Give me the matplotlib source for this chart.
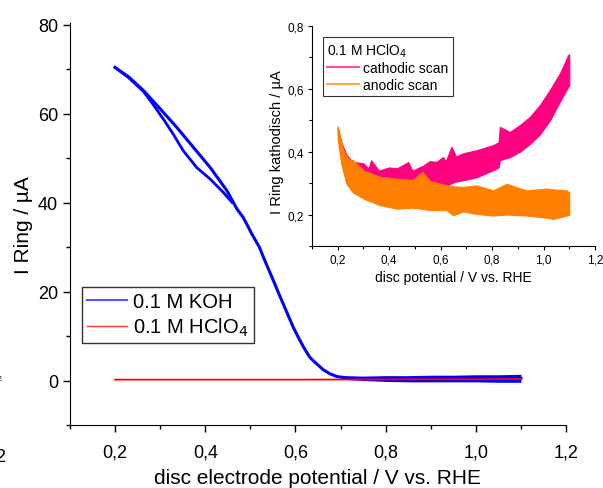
import matplotlib.pyplot as plt
from matplotlib.lines import Line2D
from matplotlib.ticker import MultipleLocator, FuncFormatter

plt.rcParams['font.family'] = ['Liberation Sans', 'DejaVu Sans']

# main plot: 0.1 M KOH, two scan branches (they join below ~0.46 V)
koh_v_a = [0.200, 0.230, 0.263, 0.300, 0.337, 0.374, 0.411, 0.448, 0.462, 0.470, 0.484,
           0.496, 0.503, 0.520, 0.529, 0.540, 0.551, 0.562, 0.573, 0.584, 0.595, 0.607,
           0.618, 0.632, 0.647, 0.662, 0.677, 0.692, 0.714, 0.75, 0.80, 0.90, 1.00, 1.10]
koh_i_a = [70.4, 68.3, 65.2, 61.1, 56.9, 52.4, 47.9, 42.7, 40.1, 38.6, 36.7,
           34.4, 33.0, 30.0, 27.7, 25.1, 22.5, 19.8, 17.2, 14.6, 12.0, 9.6,
           7.5, 5.2, 3.75, 2.4, 1.5, 0.9, 0.6, 0.45, 0.4, 0.4, 0.45, 0.5]
koh_v_b = [0.200, 0.230, 0.263, 0.285, 0.300, 0.307, 0.329, 0.351, 0.381, 0.411, 0.440, 0.459]
koh_i_b = [70.4, 68.1, 65.0, 62.0, 59.8, 58.8, 55.4, 51.7, 47.9, 45.3, 42.3, 40.1]

# noise band of the KOH curve in the plateau
flat_v = [0.70, 0.75, 0.80, 0.85, 0.90, 0.95, 1.00, 1.05, 1.10]
flat_hi = [1.0, 1.0, 1.1, 1.1, 1.2, 1.2, 1.3, 1.3, 1.4]
flat_lo = [0.3, 0.0, -0.2, -0.3, -0.3, -0.3, -0.3, -0.4, -0.4]

hclo4_v = [0.2, 0.4, 0.6, 0.8, 1.0, 1.1]
hclo4_i = [0.2, 0.2, 0.2, 0.25, 0.3, 0.35]

# inset: 0.1 M HClO4, noise envelopes of both scans
cath_v = [0.200, 0.205, 0.214, 0.234, 0.250, 0.266, 0.300, 0.320, 0.330, 0.360, 0.400,
          0.430, 0.474, 0.490, 0.530, 0.558, 0.584, 0.609, 0.620, 0.642, 0.660, 0.687,
          0.740, 0.804, 0.825, 0.830, 0.869, 0.908, 0.947, 0.986, 1.025, 1.064, 1.096, 1.100]
cath_hi = [0.48, 0.46, 0.43, 0.39, 0.375, 0.367, 0.363, 0.347, 0.373, 0.34, 0.35,
           0.347, 0.367, 0.34, 0.355, 0.37, 0.368, 0.383, 0.37, 0.416, 0.385, 0.395,
           0.405, 0.421, 0.43, 0.479, 0.463, 0.485, 0.511, 0.549, 0.597, 0.65, 0.708, 0.71]
cath_lo = [0.46, 0.42, 0.37, 0.30, 0.283, 0.285, 0.29, 0.29, 0.29, 0.29, 0.29,
           0.295, 0.295, 0.30, 0.30, 0.30, 0.29, 0.29, 0.29, 0.30, 0.305, 0.309,
           0.319, 0.341, 0.35, 0.373, 0.383, 0.40, 0.425, 0.455, 0.50, 0.56, 0.607, 0.61]
anod_v = [0.200, 0.214, 0.224, 0.234, 0.247, 0.260, 0.300, 0.364, 0.430, 0.490, 0.530,
          0.558, 0.623, 0.649, 0.687, 0.740, 0.804, 0.856, 0.934, 1.012, 1.038, 1.090, 1.100]
anod_hi = [0.48, 0.427, 0.40, 0.384, 0.375, 0.373, 0.341, 0.32, 0.314, 0.31, 0.335,
           0.307, 0.293, 0.29, 0.288, 0.293, 0.277, 0.298, 0.277, 0.283, 0.28, 0.277, 0.27]
anod_lo = [0.44, 0.36, 0.33, 0.30, 0.283, 0.27, 0.251, 0.23, 0.219, 0.222, 0.218,
           0.214, 0.214, 0.198, 0.21, 0.202, 0.197, 0.20, 0.197, 0.19, 0.186, 0.197, 0.20]

comma = FuncFormatter(lambda v, p: f"{v:.1f}".replace('.', ','))
comma0 = FuncFormatter(lambda v, p: f"{v:.0f}")

fig = plt.figure(figsize=(6.03, 4.89), dpi=100)

ax = fig.add_axes([70/603, 1-426/489, 496/603, 402/489])
ax.plot(koh_v_a, koh_i_a, color='#0000ff', lw=2.2, solid_joinstyle='round')
ax.plot(koh_v_b, koh_i_b, color='#0000ff', lw=2.0, solid_joinstyle='round')
ax.fill_between(flat_v, flat_lo, flat_hi, color='#0000ff', lw=0)
ax.plot(hclo4_v, hclo4_i, color='#ff0000', lw=1.3)
ax.set_xlim(0.1, 1.2)
ax.set_ylim(-10, 80.4)
for s in ['top', 'right']:
    ax.spines[s].set_visible(False)
ax.xaxis.set_major_locator(MultipleLocator(0.2))
ax.xaxis.set_minor_locator(MultipleLocator(0.1))
ax.yaxis.set_major_locator(MultipleLocator(20))
ax.yaxis.set_minor_locator(MultipleLocator(10))
ax.xaxis.set_major_formatter(comma)
ax.yaxis.set_major_formatter(comma0)
ax.tick_params(which='major', direction='out', length=5, width=1, labelsize=13)
ax.tick_params(which='minor', direction='out', length=3, width=1)
ax.tick_params(axis='x', pad=8)
ax.set_xlabel('disc electrode potential / V vs. RHE', fontsize=15, labelpad=6)
ax.set_ylabel('I Ring / µA', fontsize=15)
ax.yaxis.set_label_coords(-0.074, 0.5)
h = [Line2D([], [], color='#5555ff', lw=1.5), Line2D([], [], color='#ff3333', lw=1.0)]
leg = ax.legend(h, ['0.1 M KOH', '0.1 M HClO$_4$'], loc='upper left',
                bbox_to_anchor=(12/496, (426-288)/402), fontsize=14.5, frameon=True,
                fancybox=False, handlelength=2.0, handletextpad=0.3, borderpad=0.25,
                labelspacing=0.22, borderaxespad=0, handleheight=0.6)
leg.get_frame().set_edgecolor('black')
leg.get_frame().set_linewidth(1.0)

ins = fig.add_axes([312/603, 1-247/489, 283/603, 220/489])
ins.fill_between(cath_v, cath_lo, cath_hi, color='#ff0080', lw=0.8, edgecolor='#ff0080')
ins.fill_between(anod_v, anod_lo, anod_hi, color='#ff8000', lw=0.8, edgecolor='#ff8000')
ins.set_xlim(0.1, 1.2)
ins.set_ylim(0.1, 0.8)
for s in ['top', 'right']:
    ins.spines[s].set_visible(False)
ins.xaxis.set_major_locator(MultipleLocator(0.2))
ins.xaxis.set_minor_locator(MultipleLocator(0.1))
ins.yaxis.set_major_locator(MultipleLocator(0.2))
ins.yaxis.set_minor_locator(MultipleLocator(0.1))
ins.xaxis.set_major_formatter(comma)
ins.yaxis.set_major_formatter(comma)
ins.tick_params(which='major', direction='out', length=3, width=0.8, labelsize=8.5, pad=2.5)
ins.tick_params(which='minor', direction='out', length=2, width=0.8)
ins.set_xlabel('disc potential / V vs. RHE', fontsize=10, labelpad=3)
ins.set_ylabel('I Ring kathodisch / µA', fontsize=10.5)
ins.yaxis.set_label_coords(-0.098, 0.475)
ih = [Line2D([], [], color='#ff4da6', lw=1.5), Line2D([], [], color='#ffa64d', lw=1.5)]
ileg = ins.legend(ih, ['cathodic scan', 'anodic scan'], title='0.1 M HClO$_4$',
                  loc='upper left', bbox_to_anchor=(11/283, (247-38)/220), fontsize=10,
                  title_fontsize=10, frameon=True, fancybox=False, handlelength=2.3,
                  handletextpad=0.3, borderpad=0.3, labelspacing=0.2, borderaxespad=0)
ileg._legend_box.align = 'left'
ileg.get_frame().set_edgecolor('black')
ileg.get_frame().set_linewidth(0.8)

# cut-off remnants at the left edge of the original figure
fig.text(-0.004, 1-380/489, '2', fontsize=5, va='center')
fig.text(-0.008, 1-458/489, '2', fontsize=13, va='center')

fig.savefig('out.png', dpi=100)
